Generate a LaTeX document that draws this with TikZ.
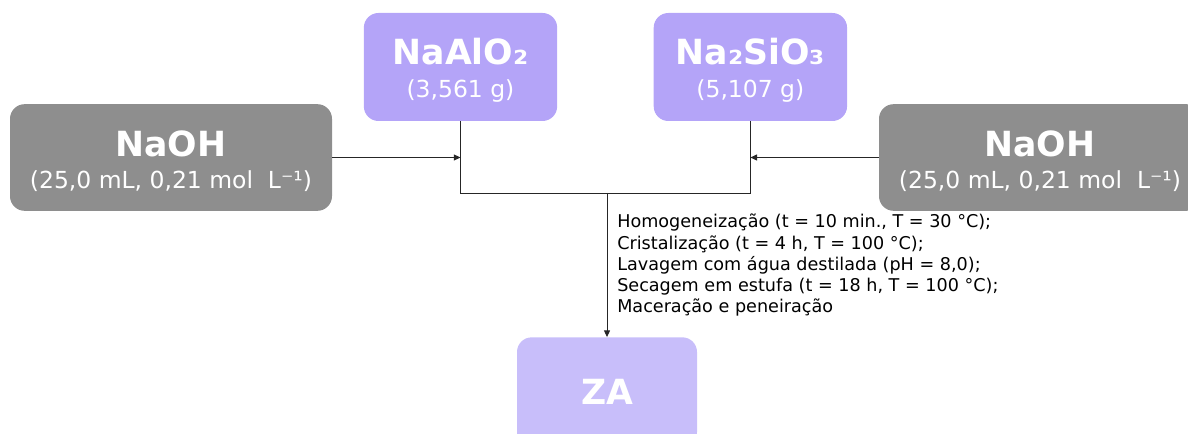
\documentclass[tikz,border=0pt]{standalone}
\usepackage{fontspec}
\setmainfont{DejaVu Sans}
\definecolor{naohgray}{RGB}{142,142,142}
\definecolor{saltpurple}{RGB}{180,164,248}
\definecolor{zapurple}{RGB}{200,190,250}
\usetikzlibrary{arrows.meta, positioning}
\newcommand{\boxtitle}[1]{{\fontsize{26}{30}\selectfont\bfseries\rule{0pt}{25pt}#1}}

\begin{document}
\begin{tikzpicture}[
  x=0.75pt, y=-0.75pt,
  box/.style={rounded corners=11pt, text=white, align=center, inner sep=0pt, font=\fontsize{17.6}{21}\selectfont},
  reagent/.style={box, fill=naohgray, minimum width=241.5pt, minimum height=80pt},
  salt/.style={box, fill=saltpurple, minimum width=145pt, minimum height=81pt},
  arr/.style={-{Triangle[length=5pt, width=4.5pt]}, black!85, line width=0.7pt},
  wire/.style={black!85, line width=0.7pt},
]
  \useasboundingbox (0,0) rectangle (1188,434);
  \clip (0,0) rectangle (1188,434);

  \node[salt] (naalo2) at (460.5,67) {\boxtitle{NaAlO₂}\\[3.5pt](3,561 g)};
  \node[salt, right=72pt of naalo2] (nasio) {\boxtitle{Na₂SiO₃}\\[3.5pt](5,107 g)};
  \node[reagent] (naoh1) at (171,157.5) {\boxtitle{NaOH}\\[3.5pt](25,0 mL, 0,21 mol~ L⁻¹)};
  \node[reagent] (naoh2) at (1040,157.5) {\boxtitle{NaOH}\\[3.5pt](25,0 mL, 0,21 mol~ L⁻¹)};
  \node[box, fill=zapurple, minimum width=135pt, minimum height=82pt, font=\fontsize{26}{30}\selectfont\bfseries] (za) at (607,392) {ZA};

  \coordinate (mix) at (607,193);

  \draw[wire] (naalo2.south) -- (naalo2.south |- mix) -- (nasio.south |- mix) -- (nasio.south);
  \draw[arr] (naoh1.east) -- (naoh1.east -| naalo2.south);
  \draw[arr] (naoh2.west) -- (naoh2.west -| nasio.south);
  \draw[arr] (mix) -- (za.north);

  % process steps
  \node[anchor=north west, align=left, inner sep=0pt, font=\fontsize{13.2}{15.8}\selectfont] (steps) at (617,214)
    {Homogeneização (t = 10 min., T = 30 °C);\\
     Cristalização (t = 4 h, T = 100 °C);\\
     Lavagem com água destilada (pH = 8,0);\\
     Secagem em estufa (t = 18 h, T = 100 °C);\\
     Maceração e peneiração};
\end{tikzpicture}
\end{document}
